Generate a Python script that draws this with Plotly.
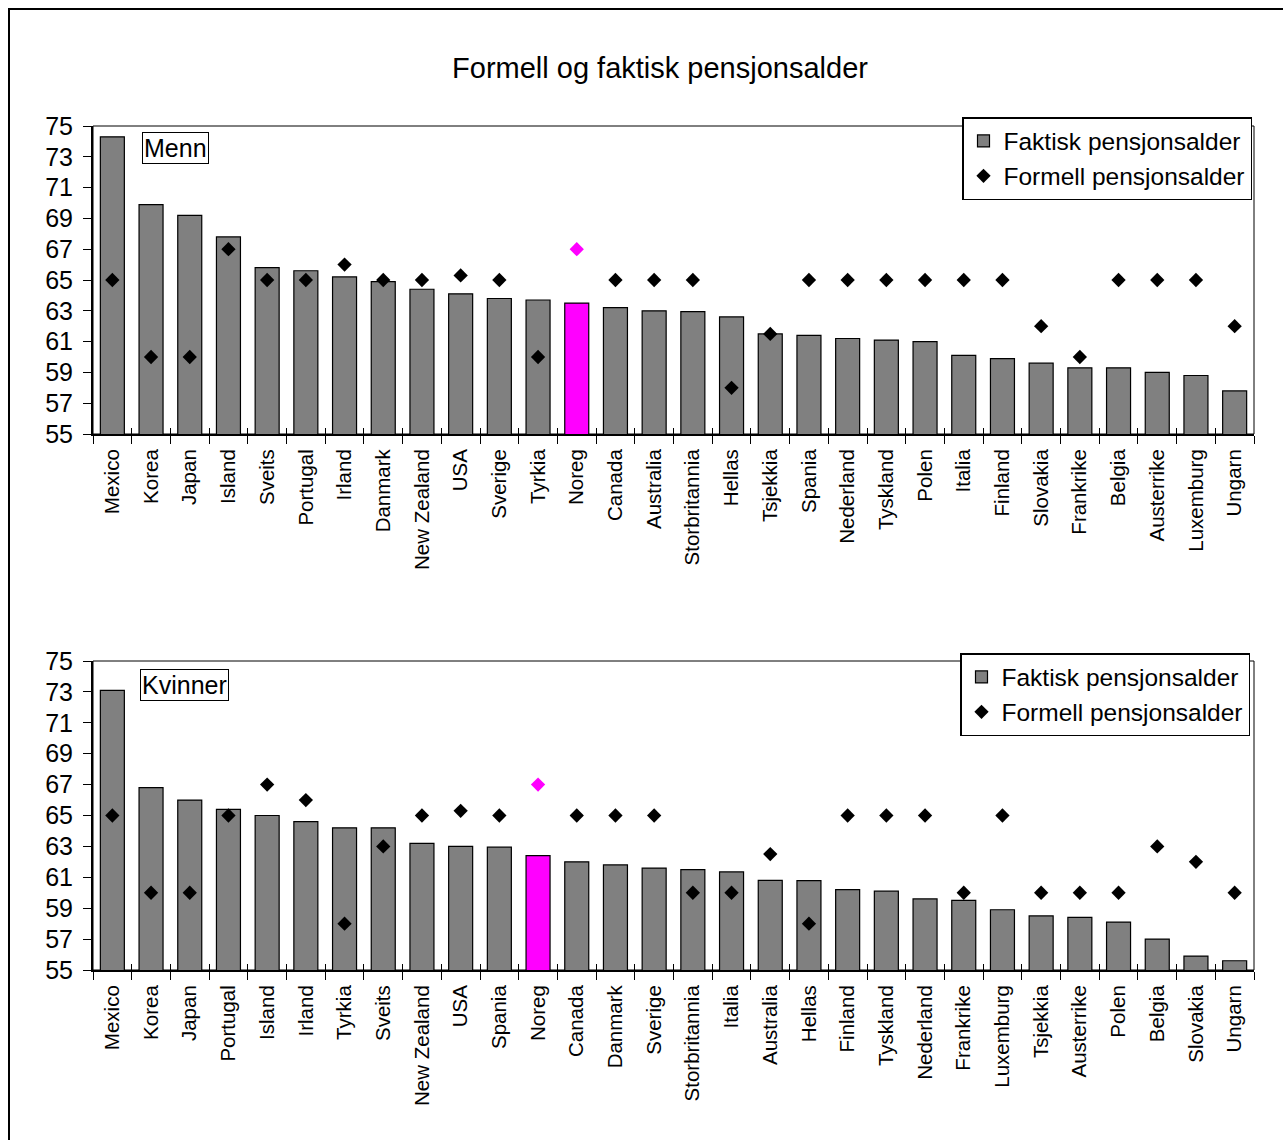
import plotly.graph_objects as go

# Menn: land sortert etter faktisk pensjonsalder
menn_land = ["Mexico", "Korea", "Japan", "Island", "Sveits", "Portugal", "Irland",
             "Danmark", "New Zealand", "USA", "Sverige", "Tyrkia", "Noreg", "Canada",
             "Australia", "Storbritannia", "Hellas", "Tsjekkia", "Spania", "Nederland",
             "Tyskland", "Polen", "Italia", "Finland", "Slovakia", "Frankrike", "Belgia",
             "Austerrike", "Luxemburg", "Ungarn"]
menn_faktisk = [74.3, 69.9, 69.2, 67.8, 65.8, 65.6, 65.2, 64.9, 64.4, 64.1, 63.8, 63.7,
                63.5, 63.2, 63.0, 62.95, 62.6, 61.5, 61.4, 61.2, 61.1, 61.0, 60.1, 59.9,
                59.6, 59.3, 59.3, 59.0, 58.8, 57.8]
menn_formell = [65, 60, 60, 67, 65, 65, 66, 65, 65, 65.3, 65, 60, 67, 65, 65, 65, 58,
                61.5, 65, 65, 65, 65, 65, 65, 62, 60, 65, 65, 65, 62]

# Kvinner
kvinner_land = ["Mexico", "Korea", "Japan", "Portugal", "Island", "Irland", "Tyrkia",
                "Sveits", "New Zealand", "USA", "Spania", "Noreg", "Canada", "Danmark",
                "Sverige", "Storbritannia", "Italia", "Australia", "Hellas", "Finland",
                "Tyskland", "Nederland", "Frankrike", "Luxemburg", "Tsjekkia",
                "Austerrike", "Polen", "Belgia", "Slovakia", "Ungarn"]
kvinner_faktisk = [73.1, 66.8, 66.0, 65.4, 65.0, 64.6, 64.2, 64.2, 63.2, 63.0, 62.95,
                   62.4, 62.0, 61.8, 61.6, 61.5, 61.35, 60.8, 60.78, 60.2, 60.1, 59.6,
                   59.5, 58.9, 58.5, 58.4, 58.1, 57.0, 55.9, 55.6]
kvinner_formell = [65, 60, 60, 65, 67, 66, 58, 63, 65, 65.3, 65, 67, 65, 65, 65, 60, 60,
                   62.5, 58, 65, 65, 65, 60, 65, 60, 60, 60, 63, 62, 60]

y_ticks = list(range(55, 76, 2))

FONT = "Liberation Sans, Arial, sans-serif"
GREY = "#808080"
PINK = "#FF00FF"
HIGHLIGHT = "Noreg"
W, H = 1283, 1140


def colours(land, base):
    return [PINK if l == HIGHLIGHT else base for l in land]


fig = go.Figure()

panels = [
    ("x", "y", "x3", "legend", menn_land, menn_faktisk, menn_formell),
    ("x2", "y2", "x4", "legend2", kvinner_land, kvinner_faktisk, kvinner_formell),
]
for i, (xa, ya, xin, leg, land, faktisk, formell) in enumerate(panels):
    fig.add_trace(go.Bar(
        x=land, y=faktisk, xaxis=xa, yaxis=ya, legend=leg,
        name="Faktisk pensjonsalder", legendgroup=f"f{i}",
        marker=dict(color=colours(land, GREY), line=dict(color="black", width=1.2)),
    ))
    fig.add_trace(go.Scatter(
        x=land, y=formell, xaxis=xa, yaxis=ya, legend=leg, mode="markers",
        name="Formell pensjonsalder", legendgroup=f"m{i}",
        marker=dict(symbol="diamond", size=11, color=colours(land, "black"),
                    line=dict(width=0)),
    ))
    # invisible carrier so the inner tick axis is drawn
    fig.add_trace(go.Scatter(
        x=[-0.5, len(land) - 0.5], y=[55, 55], xaxis=xin, yaxis=ya, mode="none",
        showlegend=False, hoverinfo="skip",
    ))

xdom = [93 / W, 1254 / W]
ydom_top = [1 - 434 / H, 1 - 126 / H]
ydom_bot = [1 - 970 / H, 1 - 661 / H]
n = len(menn_land)

xcommon = dict(type="category", domain=xdom, range=[-0.5, n - 0.5], automargin=False,
               tickangle=-90, tickfont=dict(family=FONT, size=20.5, color="black"),
               ticks="outside", ticklen=8, tickwidth=1, tickcolor="black",
               ticklabelstandoff=5,
               tickson="boundaries", showline=True, linecolor="black", linewidth=2,
               showgrid=False, zeroline=False, fixedrange=True)
ycommon = dict(range=[55, 75], tickvals=y_ticks, automargin=False,
               tickfont=dict(family=FONT, size=25, color="black"),
               ticks="outside", ticklen=8, tickwidth=1, tickcolor="black",
               ticklabelstandoff=5,
               showline=True, linecolor="black", linewidth=2,
               showgrid=False, zeroline=False, fixedrange=True)
# inner half of the category ticks, so they cross the axis line
xinner = dict(type="linear", domain=xdom, range=[-0.5, n - 0.5], automargin=False,
              tickvals=[k - 0.5 for k in range(n + 1)],
              ticks="inside", ticklen=6, tickwidth=1, tickcolor="black",
              showticklabels=False, showline=False, showgrid=False, zeroline=False,
              fixedrange=True)

legcommon = dict(font=dict(family=FONT, size=24.5, color="black"),
                 bgcolor="white", bordercolor="black", borderwidth=1.5,
                 xanchor="right", yanchor="top", tracegroupgap=0,
                 itemwidth=30,
                 itemclick=False, itemdoubleclick=False)

fig.update_layout(
    width=W, height=H,
    margin=dict(l=0, r=0, t=0, b=0, autoexpand=False),
    paper_bgcolor="white", plot_bgcolor="white",
    bargap=0.38,
    font=dict(family=FONT, color="black"),
    title=dict(text="Formell og faktisk pensjonsalder", x=660 / W, xanchor="center",
               y=1 - 68 / H, yanchor="middle",
               font=dict(family=FONT, size=29, color="black")),
    xaxis=dict(**xcommon, anchor="y"),
    yaxis=dict(**ycommon, domain=ydom_top, anchor="x"),
    xaxis2=dict(**xcommon, anchor="y2"),
    yaxis2=dict(**ycommon, domain=ydom_bot, anchor="x2"),
    xaxis3=dict(**xinner, overlaying="x", anchor="y"),
    xaxis4=dict(**xinner, overlaying="x2", anchor="y2"),
    legend=dict(**legcommon, x=1252 / W, y=1 - 117 / H),
    legend2=dict(**legcommon, x=1250 / W, y=1 - 653 / H),
    showlegend=True,
)

# plot-area frames and outer chart frame
for xr, yr in [("x domain", "y domain"), ("x2 domain", "y2 domain")]:
    fig.add_shape(type="rect", xref=xr, yref=yr, x0=0, x1=1, y0=0, y1=1,
                  line=dict(color="black", width=1), layer="below")
fig.add_shape(type="rect", xref="paper", yref="paper", x0=9 / W, x1=1.02,
              y0=-0.02, y1=1 - 9 / H, line=dict(color="black", width=2))

# panel labels
for text, x, y in [("Menn", 142, 132), ("Kvinner", 140, 669)]:
    fig.add_annotation(text=text, xref="paper", yref="paper", x=x / W, y=1 - y / H,
                       xanchor="left", yanchor="top", showarrow=False,
                       font=dict(family=FONT, size=25, color="black"),
                       bgcolor="white", bordercolor="black", borderwidth=1, borderpad=1)

fig.write_html("out.html", config={"displayModeBar": False})
